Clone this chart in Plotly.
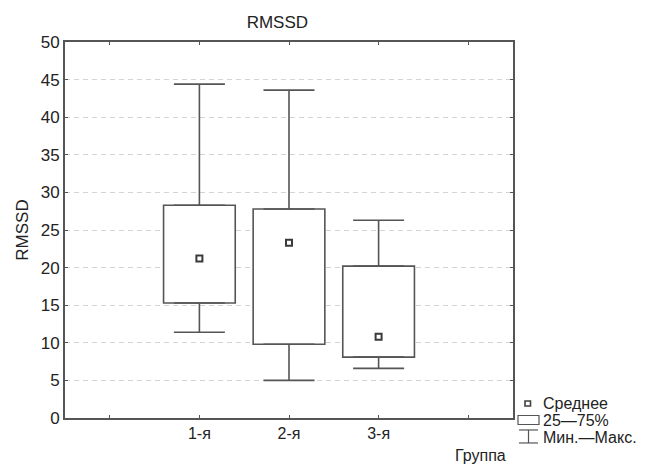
import plotly.graph_objects as go

# Data
categories = ["1-я", "2-я", "3-я"]
positions = [1, 2, 3]
min_vals = [11.4, 5.0, 6.6]
q1_vals = [15.3, 9.8, 8.1]
q3_vals = [28.3, 27.8, 20.2]
max_vals = [44.4, 43.6, 26.3]
mean_vals = [21.2, 23.3, 10.8]
legend_labels = ["Среднее", "25—75%", "Мин.—Макс."]

LINE = "#555555"
FONT = "Liberation Sans, Arial, sans-serif"
TXT = "#222222"

fig = go.Figure()

# boxes (25-75%)
fig.add_trace(go.Bar(
    x=positions, base=q1_vals,
    y=[b - a for a, b in zip(q1_vals, q3_vals)],
    width=0.8, marker=dict(color="white", line=dict(color=LINE, width=1.6)),
    showlegend=False, hoverinfo="skip",
))
# upper whiskers
fig.add_trace(go.Scatter(
    x=positions, y=q3_vals, mode="markers", marker=dict(size=1, opacity=0),
    error_y=dict(type="data", symmetric=False,
                 array=[m - b for b, m in zip(q3_vals, max_vals)],
                 arrayminus=[0, 0, 0], color=LINE, thickness=1.6, width=25.5),
    showlegend=False, hoverinfo="skip",
))
# lower whiskers
fig.add_trace(go.Scatter(
    x=positions, y=q1_vals, mode="markers", marker=dict(size=1, opacity=0),
    error_y=dict(type="data", symmetric=False,
                 array=[0, 0, 0],
                 arrayminus=[a - m for a, m in zip(q1_vals, min_vals)],
                 color=LINE, thickness=1.6, width=25.5),
    showlegend=False, hoverinfo="skip",
))
# means
fig.add_trace(go.Scatter(
    x=positions, y=mean_vals, mode="markers",
    marker=dict(symbol="square", size=6, color="white",
                line=dict(color="#3a3a3a", width=2)),
    showlegend=False, hoverinfo="skip",
))

fig.update_layout(
    width=645, height=468,
    margin=dict(l=65, r=132, t=42, b=50),
    paper_bgcolor="white", plot_bgcolor="white",
    font=dict(family=FONT, size=17, color=TXT),
    title=dict(text="RMSSD", x=0.43, xanchor="center", y=1 - 22 / 468,
               yanchor="middle", font=dict(size=17, color=TXT)),
    showlegend=False, barmode="overlay",
)

fig.update_xaxes(
    range=[-0.5, 4.5],
    tickmode="array", tickvals=[0, 1, 2, 3, 4],
    ticktext=[""] + categories + [""],
    ticks="inside", ticklen=3, tickcolor=LINE, tickwidth=1,
    showline=True, linecolor=LINE, linewidth=2, mirror="ticks",
    showgrid=False, zeroline=False,
    tickfont=dict(size=16, color=TXT),
)

fig.update_yaxes(
    range=[0, 50], tickmode="array", tickvals=list(range(0, 51, 5)),
    ticks="inside", ticklen=3, tickcolor=LINE, tickwidth=1,
    showline=True, linecolor=LINE, linewidth=2, mirror="ticks",
    showgrid=True, gridcolor="#d4d4d4", gridwidth=1, griddash="5px,4px",
    zeroline=False,
    tickfont=dict(size=17, color=TXT),
    title=dict(text="RMSSD", font=dict(size=17, color=TXT), standoff=8),
)

# x axis title (bottom right)
fig.add_annotation(text="Группа", xref="paper", yref="paper",
                   x=(480 - 65) / 448, y=-(467 - 418.5) / 376.5,
                   xanchor="center", yanchor="bottom", showarrow=False,
                   font=dict(size=16, color=TXT))

# legend (drawn manually)
def px_x(p):
    return (p - 65) / 448

def px_y(p):
    return (418.5 - p) / 376.5

shapes = []
shapes.append(dict(type="rect", xref="paper", yref="paper",
                   x0=px_x(525), x1=px_x(530.5), y0=px_y(406.5), y1=px_y(401.5),
                   line=dict(color="#404040", width=1.6), fillcolor="white"))
shapes.append(dict(type="rect", xref="paper", yref="paper",
                   x0=px_x(518), x1=px_x(539), y0=px_y(425), y1=px_y(416),
                   line=dict(color=LINE, width=1.2), fillcolor="white"))
for (xa, ya, xb, yb) in [(519, 430.5, 538, 430.5), (528.5, 430.5, 528.5, 443.5), (519, 443.5, 538, 443.5)]:
    shapes.append(dict(type="line", xref="paper", yref="paper",
                       x0=px_x(xa), y0=px_y(ya), x1=px_x(xb), y1=px_y(yb),
                       line=dict(color=LINE, width=1.2)))
fig.update_layout(shapes=shapes)

for txt, yy in zip(legend_labels, [404, 421, 438]):
    fig.add_annotation(text=txt, xref="paper", yref="paper",
                       x=px_x(542), y=px_y(yy), xanchor="left", yanchor="middle",
                       showarrow=False, borderpad=0, height=17,
                       font=dict(size=16, color=TXT))

fig.write_html("out.html")
